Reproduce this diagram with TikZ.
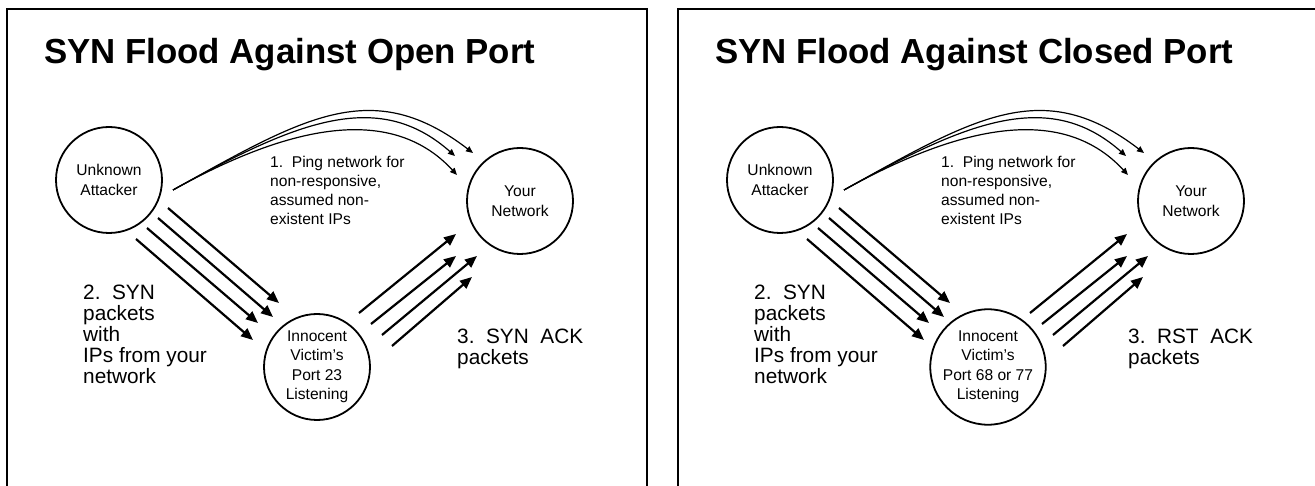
\documentclass[tikz,border=0pt]{standalone}
\usepackage{fontspec}
\setmainfont{Liberation Sans}
\usetikzlibrary{arrows.meta}
\tikzset{
  frameline/.style={line width=2pt},
  ttl/.style={anchor=base west, inner sep=0pt, font=\fontsize{34.8}{40}\selectfont\bfseries},
  circ/.style={circle, draw, line width=1.8pt, minimum size=106pt, inner sep=0pt, align=center, font=\fontsize{15.6}{19.5}\selectfont},
  smalllbl/.style={anchor=base west, inner sep=0pt, align=left, font=\fontsize{15.6}{19}\selectfont},
  biglbl/.style={anchor=base west, inner sep=0pt, align=left, font=\fontsize{20.8}{20.8}\selectfont},
  synarrow/.style={line width=2.2pt, -{Triangle[length=12pt,width=10pt]}},
  pingarrow/.style={line width=1.2pt, -{Triangle[length=7pt,width=6pt]}},
}
\newcommand\synpanel[5]{%
\begin{scope}[shift={(#1,0)}, name prefix=#2-]
  \draw[frameline] (7,500) |- (647,9) -- (647,500);
  \node[ttl] (title) at (44,64) {#3};
  \node[circ] (att) at (109,180) {Unknown\\Attacker};
  \node[circ] (net) at (520,201) {Your\\Network};
  \node[circ] (vic) at (317,367) {#4};
  % multi-line labels: base anchor = baseline of last line
  \node[smalllbl] (l1) at (270,225) {1.\ \ Ping network for\\non-responsive,\\assumed non-\\existent IPs};
  \node[biglbl] (l2) at (83,383) {2.\ \ SYN\\packets\\with\\IPs from your\\network};
  \node[biglbl] (l3) at (457,364) {3.\ \ #5\ \ ACK\\packets};
  % ping curves
  \coordinate (ps) at (173,190);
  \coordinate (pe1) at (473,153);
  \coordinate (pe2) at (455,156);
  \coordinate (pe3) at (457,175);
  \draw[pingarrow] (ps) .. controls (305,116.5) and (372.5,76) .. (pe1);
  \draw[pingarrow] (ps) .. controls (294,123) and (377,87) .. (pe2);
  \draw[pingarrow] (ps) .. controls (281.5,129.7) and (388.4,100.6) .. (pe3);
  % SYN packets
  \coordinate (s1) at (168,208); \coordinate (e1) at (279,303);
  \coordinate (s2) at (158,218); \coordinate (e2) at (273,317);
  \coordinate (s3) at (147,228); \coordinate (e3) at (258,323);
  \coordinate (s4) at (136,239); \coordinate (e4) at (253,340);
  \foreach \i in {1,...,4}{\draw[synarrow] (s\i) -- (e\i);}
  % replies
  \coordinate (r1) at (359,313); \coordinate (f1) at (456,234);
  \coordinate (r2) at (371,324); \coordinate (f2) at (456,256);
  \coordinate (r3) at (382,335); \coordinate (f3) at (477,256);
  \coordinate (r4) at (392,346); \coordinate (f4) at (472,277);
  \foreach \i in {1,...,4}{\draw[synarrow] (r\i) -- (f\i);}
\end{scope}}
\begin{document}
\begin{tikzpicture}[x=1pt,y=-1pt]
  \useasboundingbox (0,0) rectangle (1315,486);
  \clip (0,0) rectangle (1315,486);
  \fill[white] (0,0) rectangle (1315,486);
  \synpanel{0}{L}{SYN Flood Against Open Port}{Innocent\\Victim’s\\Port 23\\Listening}{SYN}
  \synpanel{671}{R}{SYN Flood Against Closed Port}{Innocent\\Victim’s\\Port 68 or 77\\Listening}{RST}
\end{tikzpicture}
\end{document}
